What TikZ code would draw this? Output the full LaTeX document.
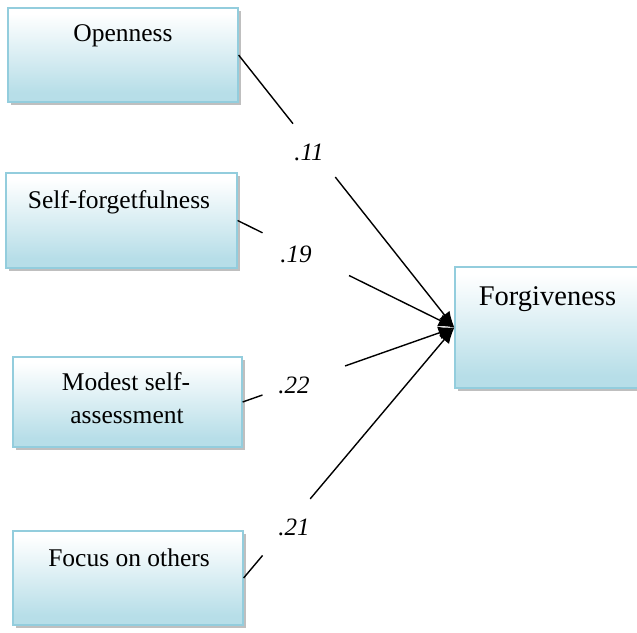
\documentclass[tikz,border=0pt]{standalone}
\usepackage{fontspec}
\setmainfont{Liberation Serif}
\usetikzlibrary{calc,arrows.meta,shadows}
\definecolor{boxblue}{RGB}{183,222,232}
\definecolor{boxedge}{RGB}{147,205,221}
\pgfdeclareverticalshading{boxshade}{100bp}{color(0bp)=(boxblue); color(30bp)=(boxblue); color(72bp)=(white); color(100bp)=(white)}
\tikzset{
  box/.style={draw=boxedge, line width=1.2pt, shading=boxshade,
    drop shadow={shadow xshift=3pt, shadow yshift=-3pt, fill=black!50},
    inner sep=0pt},
  txt/.style={font=\fontsize{25.5}{30}\selectfont, inner sep=0pt, anchor=base},
  coef/.style={font=\fontsize{25}{28}\selectfont\itshape, inner sep=0pt},
  conn/.style={line width=1.4pt, black},
  arr/.style={conn, -{Latex[length=16pt,width=13pt]}}
}
\begin{document}
\begin{tikzpicture}[x=1pt,y=-1pt]
\useasboundingbox (0,0) rectangle (637,632);
\fill[white] (0,0) rectangle (637,632);
% boxes
\node[box, minimum width=230pt, minimum height=94pt] (open) at (123,55) {};
\node[box, minimum width=231pt, minimum height=95pt] (sf) at (121.5,220.5) {};
\node[box, minimum width=229pt, minimum height=90pt] (mod) at (127.5,402) {};
\node[box, minimum width=230pt, minimum height=94pt] (foc) at (128,578) {};
\node[box, minimum width=195pt, minimum height=121pt] (forg) at (552.5,327.5) {};
% texts
\node[txt] (topen) at (123,41) {Openness};
\node[txt] (tsf) at (119,208) {Self-forgetfulness};
\node[txt] (tmod1) at (126,390) {Modest self-};
\node[txt] (tmod2) at (127,423) {assessment};
\node[txt] (tfoc) at (129,566) {Focus on others};
\node[txt, font=\fontsize{28.5}{32}\selectfont] (tforg) at (547.5,305) {Forgiveness};
% gap coordinates
\coordinate (o1) at ($(open.east)!0.252!(forg.west)$);
\coordinate (o2) at ($(open.east)!0.448!(forg.west)$);
\coordinate (s1) at ($(sf.east)!0.115!(forg.west)$);
\coordinate (s2) at ($(sf.east)!0.514!(forg.west)$);
\coordinate (m1) at ($(mod.east)!0.094!(forg.west)$);
\coordinate (m2) at ($(mod.east)!0.484!(forg.west)$);
\coordinate (f1) at ($(foc.east)!0.09!(forg.west)$);
\coordinate (f2) at ($(foc.east)!0.316!(forg.west)$);
% connectors
\draw[conn] (open.east) -- (o1);
\draw[arr] (o2) -- (forg.west);
\draw[conn] (sf.east) -- (s1);
\draw[arr] (s2) -- (forg.west);
\draw[conn] (mod.east) -- (m1);
\draw[arr] (m2) -- (forg.west);
\draw[conn] (foc.east) -- (f1);
\draw[arr] (f2) -- (forg.west);
% coefficients
\node[coef] (c11) at (309,152) {.11};
\node[coef] (c19) at (296,254) {.19};
\node[coef] (c22) at (294,385) {.22};
\node[coef] (c21) at (294,527) {.21};
\end{tikzpicture}
\end{document}
